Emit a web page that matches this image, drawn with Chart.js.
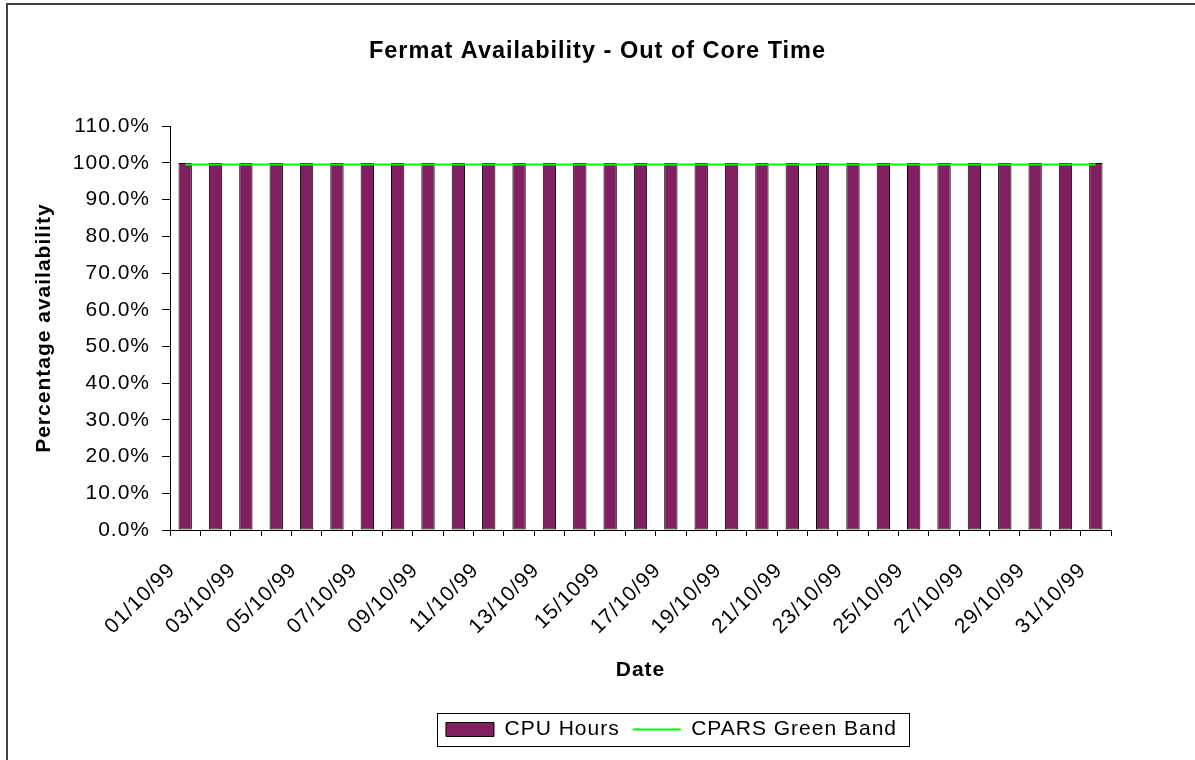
<!DOCTYPE html>
<html>
<head>
<meta charset="utf-8">
<title>Fermat Availability - Out of Core Time</title>
<script src="https://cdn.jsdelivr.net/npm/chart.js@4.4.1/dist/chart.umd.min.js"></script>
<style>
  html, body { margin: 0; padding: 0; background: #fff; }
  #wrap { width: 1195px; height: 760px; position: relative; }
</style>
</head>
<body>
<div id="wrap"><canvas id="chart"></canvas></div>
<script>
const dates = [
  "01/10/99", "02/10/99", "03/10/99", "04/10/99", "05/10/99", "06/10/99", "07/10/99", "08/10/99",
  "09/10/99", "10/10/99", "11/10/99", "12/10/99", "13/10/99", "14/10/99", "15/1099", "16/10/99",
  "17/10/99", "18/10/99", "19/10/99", "20/10/99", "21/10/99", "22/10/99", "23/10/99", "24/10/99",
  "25/10/99", "26/10/99", "27/10/99", "28/10/99", "29/10/99", "30/10/99", "31/10/99"
];
const cpuHours = [
  100, 100, 100, 100, 100, 100, 100, 100, 100, 100, 100, 100, 100, 100, 100, 100,
  100, 100, 100, 100, 100, 100, 100, 100, 100, 100, 100, 100, 100, 100, 100
];
const greenBand = [
  99.6, 99.6, 99.6, 99.6, 99.6, 99.6, 99.6, 99.6, 99.6, 99.6, 99.6, 99.6, 99.6, 99.6, 99.6, 99.6,
  99.6, 99.6, 99.6, 99.6, 99.6, 99.6, 99.6, 99.6, 99.6, 99.6, 99.6, 99.6, 99.6, 99.6, 99.6
];
const yTicks = { min: 0, max: 110, step: 10 };

Chart.defaults.font.family = "'Liberation Sans', Arial, sans-serif";
Chart.defaults.color = "#000";

// the source text is set a little loose, so widen the letter spacing
const spacingPlugin = {
  id: "spacing",
  beforeUpdate(chart) { chart.ctx.letterSpacing = "1px"; },
  beforeDraw(chart) { chart.ctx.letterSpacing = "1px"; }
};

// outer frame (top + left edges only, like the source)
const framePlugin = {
  id: "frame",
  beforeDraw(chart) {
    const ctx = chart.ctx;
    ctx.save();
    ctx.fillStyle = "#fff";
    ctx.fillRect(0, 0, chart.width, chart.height);
    ctx.fillStyle = "#404040";
    ctx.fillRect(6, 3, chart.width - 6, 2);
    ctx.fillRect(6, 3, 2, chart.height - 3);
    ctx.restore();
  }
};

// legend sits right of centre in the source, with a box round it
// (legend's own afterUpdate recomputes hit boxes from the shifted edges)
const legendShift = 74;
const legendBoxPlugin = {
  id: "legendBox",
  afterLayout(chart) {
    const lg = chart.legend;
    if (!lg) return;
    lg.left += legendShift;
    lg.right += legendShift;
  },
  afterDraw(chart) {
    const boxes = chart.legend && chart.legend.legendHitBoxes;
    if (!boxes || !boxes.length) return;
    let left = Infinity, right = -Infinity, top = Infinity, bottom = -Infinity;
    boxes.forEach(b => {
      left = Math.min(left, b.left);
      right = Math.max(right, b.left + b.width);
      top = Math.min(top, b.top);
      bottom = Math.max(bottom, b.top + b.height);
    });
    const ctx = chart.ctx;
    ctx.save();
    ctx.strokeStyle = "#000";
    ctx.lineWidth = 1;
    ctx.strokeRect(Math.round(left - 9) + 0.5, Math.round(top - 6) + 0.5,
      Math.round(right - left + 21), Math.round(bottom - top + 12));
    ctx.restore();
  }
};

const ctx = document.getElementById("chart").getContext("2d");
new Chart(ctx, {
  type: "bar",
  data: {
    labels: dates,
    datasets: [
      {
        type: "bar",
        label: "CPU Hours",
        data: cpuHours,
        backgroundColor: "#802060",
        borderColor: "#000",
        borderWidth: 1,
        borderSkipped: false,
        categoryPercentage: 1.0,
        barPercentage: 0.44,
        order: 1
      },
      {
        type: "line",
        label: "CPARS Green Band",
        data: greenBand,
        borderColor: "#00ff00",
        backgroundColor: "#00ff00",
        borderWidth: 2,
        pointRadius: 0,
        fill: false,
        tension: 0,
        order: 0
      }
    ]
  },
  options: {
    responsive: true,
    maintainAspectRatio: false,
    animation: false,
    layout: {
      padding: { left: 0, right: 0, top: 0, bottom: 10 }
    },
    scales: {
      x: {
        grid: {
          display: true,
          drawOnChartArea: false,
          drawTicks: true,
          tickLength: 6,
          color: "#000",
          offset: true
        },
        border: { display: true, color: "#000", width: 1 },
        ticks: {
          autoSkip: false,
          minRotation: 45,
          maxRotation: 45,
          padding: 22,
          labelOffset: -13,
          font: { size: 21 },
          callback: function (value, index) {
            return index % 2 === 0 ? dates[index] : "";
          }
        },
        title: {
          display: true,
          text: "Date",
          font: { size: 21, weight: "bold" },
          padding: { top: 0, bottom: 23 }
        },
        afterFit(scale) {
          scale.height = 176;
        }
      },
      y: {
        min: yTicks.min,
        max: yTicks.max,
        grid: {
          display: true,
          drawOnChartArea: false,
          drawTicks: true,
          tickLength: 8,
          color: "#000"
        },
        border: { display: true, color: "#000", width: 1 },
        ticks: {
          stepSize: yTicks.step,
          padding: 12,
          font: { size: 21 },
          callback: v => v.toFixed(1) + "%"
        },
        title: {
          display: true,
          text: "Percentage availability",
          font: { size: 21, weight: "bold" },
          padding: { top: 32, bottom: 0 }
        },
        afterFit(scale) {
          scale.width = 170;
        }
      },
      // empty right-hand strip so the title stays centred on the page
      yRight: {
        axis: "y",
        position: "right",
        display: true,
        grid: { display: false },
        border: { display: false },
        ticks: { display: false },
        afterFit(scale) {
          scale.width = 84;
        }
      }
    },
    plugins: {
      title: {
        display: true,
        text: "Fermat Availability - Out of Core Time",
        font: { size: 23.5, weight: "bold" },
        padding: { top: 37, bottom: 61 }
      },
      legend: {
        display: true,
        position: "bottom",
        labels: {
          usePointStyle: true,
          pointStyleWidth: 48,
          boxHeight: 14,
          padding: 13,
          font: { size: 21 },
          sort: (a, b) => a.datasetIndex - b.datasetIndex,
          generateLabels(chart) {
            const items = Chart.defaults.plugins.legend.labels.generateLabels(chart);
            items.forEach(it => {
              if (it.datasetIndex === 0) {
                it.pointStyle = "rect";
                it.lineWidth = 1;
                it.strokeStyle = "#000";
              } else {
                it.pointStyle = "line";
                it.lineWidth = 2;
                it.strokeStyle = "#00ff00";
              }
            });
            return items;
          }
        }
      },
      tooltip: { enabled: false }
    }
  },
  plugins: [spacingPlugin, framePlugin, legendBoxPlugin]
});
</script>
</body>
</html>
